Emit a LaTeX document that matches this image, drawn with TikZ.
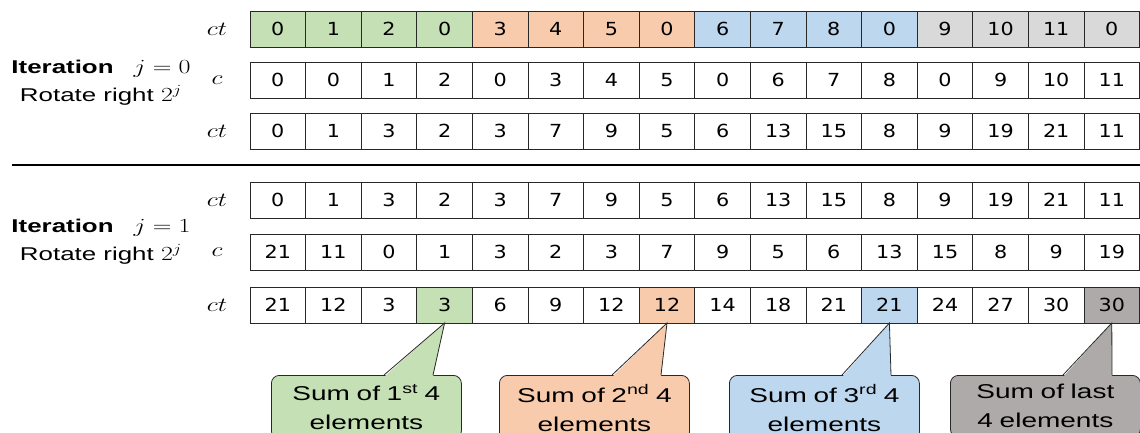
\documentclass[tikz,border=0pt]{standalone}
\usepackage{fontspec}
\usepackage{graphicx}
\newfontfamily\cellfont[FakeStretch=1.15]{DejaVu Sans}
\newfontfamily\labelfont[FakeStretch=1.4]{Liberation Sans}
\definecolor{part0}{HTML}{C5E0B4}
\definecolor{part1}{HTML}{F8CBAD}
\definecolor{part2}{HTML}{BDD7EE}
\definecolor{part3}{HTML}{D9D9D9}
\colorlet{total0}{part0}
\colorlet{total1}{part1}
\colorlet{total2}{part2}
\definecolor{total3}{HTML}{AEAAAA}
\definecolor{edgegray}{RGB}{40,40,40}
\usetikzlibrary{positioning,calc}
\newcommand{\widemath}[1]{{\fontsize{17.28}{20}\selectfont\scalebox{1.5}[1.16]{$#1$}}}

\begin{document}
\begin{tikzpicture}[
  x=1pt,y=-1pt,
  cell/.style={draw=edgegray,line width=0.8pt,minimum width=55.6pt,minimum height=36pt,
    inner sep=0pt,outer sep=0pt,font=\cellfont\fontsize{18}{20}\selectfont},
  rowlabel/.style={font=\fontsize{17.28}{20}\selectfont},
  iterlabel/.style={align=center,font=\labelfont\fontsize{18.5}{28}\selectfont},
  sumbox/.style={draw=edgegray,line width=0.8pt,rounded corners=8pt,align=center,
    text width=186pt,inner xsep=2pt,inner ysep=9pt,anchor=north west,
    font=\labelfont\fontsize{20}{29}\selectfont},
  tail/.style={draw=edgegray,line width=0.8pt}
]
\useasboundingbox (0,0) rectangle (1140,433);
\clip (0,0) rectangle (1140,433);

% iteration labels
\node[iterlabel] (iter0) at (101,83) {\textbf{Iteration}\hspace{20pt}\widemath{j=0}\\Rotate right \widemath{2^{j}}};
\node[iterlabel] (iter1) at (101,242) {\textbf{Iteration}\hspace{20pt}\widemath{j=1}\\Rotate right \widemath{2^{j}}};

% separator
\coordinate (sepL) at (12,165);
\coordinate (sepR) at (1140,165);
\draw[line width=2pt] (sepL) -- (sepR);

% row labels
\foreach \r/\y/\lab in {1/29/ct,2/80/c,3/131/ct,4/200/ct,5/252/c,6/305/ct}
  \node[rowlabel] (lab\r) at (217,\y) {\widemath{\lab}};

% input row, coloured by group of 4
\foreach \v [count=\i] in {0,1,2,0,3,4,5,0,6,7,8,0,9,10,11,0}{
  \pgfmathtruncatemacro\g{(\i-1)/4}
  \node[cell,fill=part\g] (r1-\i) at ({250+55.6*(\i-0.5)},29) {\v};
}

% plain rows
\foreach \r/\y/\vals in {
  2/80/{0,0,1,2,0,3,4,5,0,6,7,8,0,9,10,11},
  3/131/{0,1,3,2,3,7,9,5,6,13,15,8,9,19,21,11},
  4/200/{0,1,3,2,3,7,9,5,6,13,15,8,9,19,21,11},
  5/252/{21,11,0,1,3,2,3,7,9,5,6,13,15,8,9,19}}{
  \foreach \v [count=\i] in \vals
    \node[cell,fill=white] (r\r-\i) at ({250+55.6*(\i-0.5)},\y) {\v};
}

% result row, last of each group marked
\foreach \v [count=\i] in {21,12,3,3,6,9,12,12,14,18,21,21,24,27,30,30}{
  \pgfmathtruncatemacro\g{(\i-1)/4}
  \pgfmathtruncatemacro\k{mod(\i,4)}
  \ifnum\k=0 \def\f{total\g}\else\def\f{white}\fi
  \node[cell,fill=\f] (r6-\i) at ({250+55.6*(\i-0.5)},305) {\v};
}

% callouts
\foreach \n/\x/\c/\t in {
  0/271/4/{Sum of 1\textsuperscript{st} 4\\elements},
  1/499/8/{Sum of 2\textsuperscript{nd} 4\\elements},
  2/729/12/{Sum of 3\textsuperscript{rd} 4\\elements},
  3/950/16/{Sum of last\\4 elements}}{
  \node[sumbox,fill=total\n] (sum\n) at (\x,375) {\t};
  \fill[total\n] ($(sum\n.north west)+(113,2)$) -- (r6-\c.south) -- ($(sum\n.north west)+(162,2)$) -- cycle;
  \draw[tail] ($(sum\n.north west)+(113,0)$) -- (r6-\c.south) -- ($(sum\n.north west)+(162,0)$);
}
\end{tikzpicture}
\end{document}
